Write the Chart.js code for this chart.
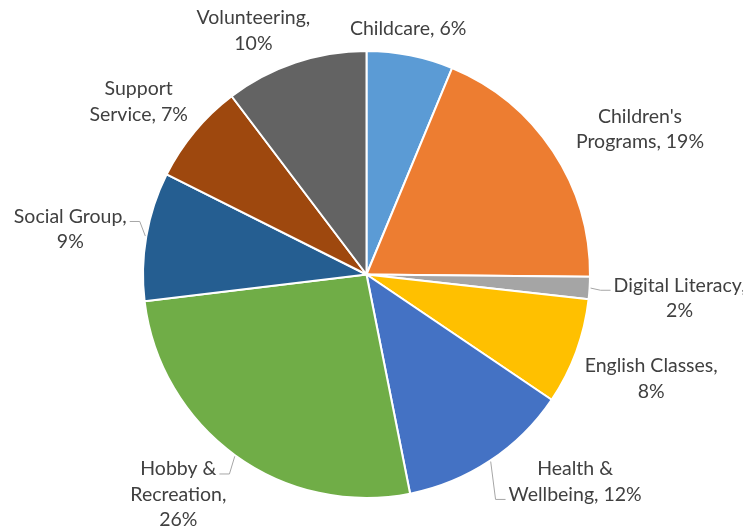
<!DOCTYPE html>
<html><head><meta charset="utf-8">
<script src="https://cdn.jsdelivr.net/npm/chart.js@4.4.1/dist/chart.umd.min.js"></script>
<style>html,body{margin:0;padding:0;background:#fff}#wrap{width:743px;height:532px;position:relative}</style>
</head><body><div id="wrap"><canvas id="c"></canvas></div>
<script>
const categories = ["Childcare", "Children's Programs", "Digital Literacy", "English Classes", "Health & Wellbeing", "Hobby & Recreation", "Social Group", "Support Service", "Volunteering"];
const values = [6.25, 18.9, 1.6, 7.7, 12.4, 26.2, 9.3, 7.3, 10.3];
const colors = ["#5B9BD5", "#ED7D31", "#A5A5A5", "#FFC000", "#4472C4", "#70AD47", "#255E91", "#9E480E", "#636363"];
// words per label line
const wordsPerLine = [[2], [1, 2], [2, 1], [2, 1], [2, 2], [2, 1, 1], [2, 1], [1, 2], [1, 1]];
// label offsets from the arc's outer mid point (px)
const labelOffsets = [[-2, -27], [87, -22], [90, 10], [75, 27], [85, 21], [-57, 39], [-76, -7], [-56, -30], [-42, -32]];
const leaders = [null, null, {line: 0, side: 'left'}, null, {line: 1, side: 'left'}, {line: 0, side: 'right'}, {line: 0, side: 'right'}, null, null];

const FONT = '19.5px Lato';
const LH = 25.5;

const total = values.reduce((a, b) => a + b, 0);

function labelLines(i) {
  const pct = Math.round(values[i] / total * 100);
  const words = (categories[i] + ', ' + pct + '%').split(' ');
  const lines = [];
  let k = 0;
  for (const n of wordsPerLine[i]) { lines.push(words.slice(k, k + n).join(' ')); k += n; }
  return lines;
}

const labelPlugin = {
  id: 'outLabels',
  afterDatasetsDraw(chart) {
    const ctx = chart.ctx;
    const meta = chart.getDatasetMeta(0);
    ctx.save();
    ctx.font = FONT;
    ctx.fillStyle = '#404040';
    ctx.textAlign = 'center';
    ctx.textBaseline = 'middle';
    meta.data.forEach((arc, i) => {
      const p = arc.getProps(['x', 'y', 'startAngle', 'endAngle', 'outerRadius'], true);
      const mid = (p.startAngle + p.endAngle) / 2;
      const ax = p.x + Math.cos(mid) * p.outerRadius;
      const ay = p.y + Math.sin(mid) * p.outerRadius;
      const cx = ax + labelOffsets[i][0];
      const cy = ay + labelOffsets[i][1];
      const lines = labelLines(i);
      const y0 = cy - (lines.length - 1) * LH / 2;
      lines.forEach((t, k) => ctx.fillText(t, cx, y0 + k * LH));
      const L = leaders[i];
      if (L) {
        const w = ctx.measureText(lines[L.line]).width;
        const ly = y0 + L.line * LH + 5;
        let ex, elx;
        if (L.side === 'left') { ex = cx - w / 2 - 3; elx = ex - 10; }
        else { ex = cx + w / 2 + 3; elx = ex + 10; }
        const sx = p.x + Math.cos(mid) * (p.outerRadius + 1);
        const sy = p.y + Math.sin(mid) * (p.outerRadius + 1);
        ctx.beginPath();
        ctx.strokeStyle = '#A6A6A6';
        ctx.lineWidth = 1;
        ctx.moveTo(sx, sy);
        ctx.lineTo(elx, ly);
        ctx.lineTo(ex, ly);
        ctx.stroke();
      }
    });
    ctx.restore();
  }
};

new Chart(document.getElementById('c'), {
  type: 'pie',
  data: {
    labels: categories,
    datasets: [{
      data: values,
      backgroundColor: colors,
      borderColor: '#FFFFFF',
      borderWidth: 2
    }]
  },
  options: {
    responsive: true,
    maintainAspectRatio: false,
    animation: false,
    layout: {padding: {top: 50, bottom: 33, left: 0, right: 10}},
    plugins: {legend: {display: false}, tooltip: {enabled: false}}
  },
  plugins: [labelPlugin]
});
</script>
</body></html>
